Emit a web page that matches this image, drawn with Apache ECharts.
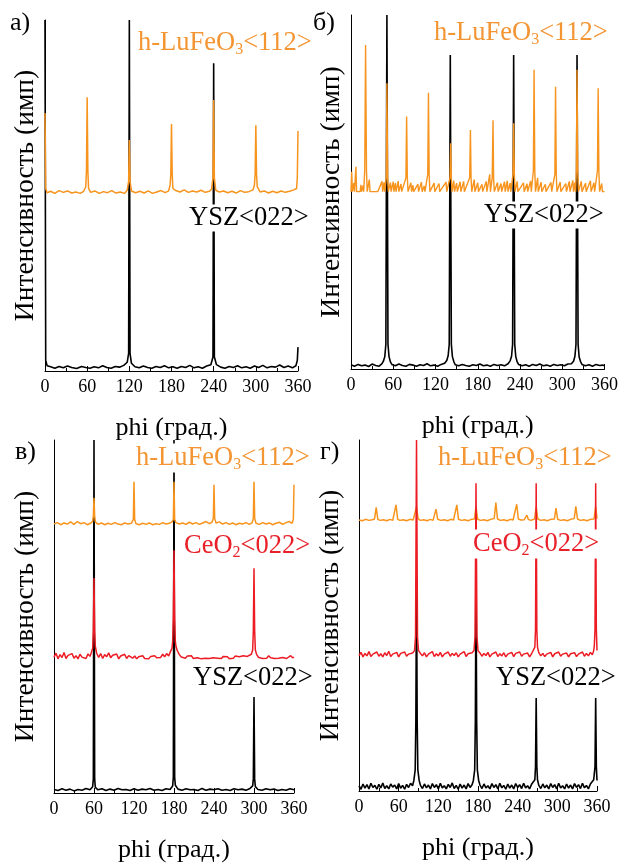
<!DOCTYPE html>
<html><head><meta charset="utf-8">
<script src="https://cdn.jsdelivr.net/npm/echarts@6/dist/echarts.min.js"></script>
<style>html,body{margin:0;padding:0;background:#fff}#c{width:621px;height:864px}</style>
</head><body><div id="c"></div>
<script>
// ---------- DATA: [phi (deg), intensity (arb., stacked offset included)] ----------
const yszA = [[0,100],[1,3],[3,1.5],[8,1.2],[14,0.8],[20,1.3],[26,0.9],[32,1.4],[38,1.0],[45,0.7],[52,1.3],[58,1.0],[64,0.8],[70,1.2],[76,0.9],[82,1.5],[88,1.0],[94,0.8],[100,1.3],[106,1.1],[112,1.6],[117,2.5],[119,5],[120,100],[121,5],[123,2.2],[128,1.2],[134,0.9],[140,1.4],[146,1.0],[152,0.8],[158,1.3],[164,1.0],[170,1.5],[176,0.9],[182,1.2],[188,0.8],[194,1.3],[200,1.0],[206,1.6],[212,0.9],[218,1.2],[224,0.8],[230,1.4],[236,1.8],[239,4],[240,87.7],[241,4],[244,1.8],[250,1.1],[256,0.8],[262,1.3],[268,1.0],[274,1.5],[280,0.9],[286,1.2],[292,0.8],[298,1.4],[304,1.0],[310,1.6],[316,0.9],[322,1.3],[328,1.1],[334,1.7],[340,1.0],[346,1.4],[352,0.9],[357,1.5],[359,3],[360,6.8]];
const lufeoA = [[0,73.5],[1,52],[3,50.8],[8,51.2],[14,50.6],[20,51.4],[26,50.9],[32,51.3],[38,50.7],[44,51.0],[50,50.6],[55,51.2],[58,52.5],[59,57],[60,78],[61,57],[62,52],[65,50.9],[71,51.3],[77,50.6],[83,51.1],[89,50.8],[95,51.4],[101,50.7],[107,51.0],[113,50.6],[117,51.5],[119,54],[120,65.8],[121,54],[123,51.3],[129,50.8],[135,51.2],[141,50.7],[147,51.3],[153,50.6],[159,51.0],[165,51.4],[171,50.8],[176,51.3],[178,53],[179,56],[180,70.4],[181,56],[182,52],[186,51.4],[192,51.0],[198,51.6],[204,50.9],[210,51.3],[216,51.0],[222,51.5],[228,50.9],[234,51.2],[237,51.8],[239,55],[240,77.2],[241,55],[243,51.5],[248,51.0],[254,51.3],[260,50.8],[266,51.2],[272,50.7],[278,51.4],[284,50.9],[290,51.1],[296,51.6],[298,53],[299,56],[300,70],[301,56],[302,52.5],[306,51.0],[312,51.3],[318,50.7],[324,51.2],[330,50.8],[336,51.3],[342,50.9],[348,51.2],[354,51.6],[358,52],[359,55],[360,68.4]];

const yszB = [[0,1.2],[5,0.8],[10,1.3],[15,0.9],[20,1.1],[25,0.7],[30,1.4],[35,1.0],[40,0.8],[44,1.5],[46,2.2],[48,3.5],[49.5,7],[51,100],[52.5,7],[54,3.5],[56,2],[58,1.3],[63,0.9],[68,1.4],[73,1.0],[78,0.8],[83,1.3],[88,1.1],[93,0.8],[98,1.2],[103,1.0],[108,1.5],[113,0.9],[118,1.1],[123,0.8],[128,1.3],[133,1.6],[136,2.4],[138,3.8],[139.5,7],[141,88.7],[142.5,7],[144,3.5],[146,2.1],[148,1.2],[153,0.9],[158,1.3],[163,1.0],[168,0.8],[173,1.2],[178,1.0],[183,1.4],[188,0.9],[193,1.1],[198,0.8],[203,1.3],[208,1.0],[213,1.2],[218,0.9],[223,1.5],[226,2.3],[228,3.6],[229.5,7],[231,88.7],[232.5,7],[234,3.5],[236,2.0],[238,1.3],[243,0.9],[248,1.2],[253,0.8],[258,1.3],[263,1.0],[268,1.4],[273,0.9],[278,1.1],[283,0.8],[288,1.3],[293,1.0],[298,1.2],[303,0.9],[308,1.4],[313,1.5],[316,2.2],[318,3.6],[319.5,7],[321,88.7],[322.5,7],[324,3.4],[326,2.1],[328,1.3],[333,0.9],[338,1.2],[343,0.8],[348,1.3],[353,1.0],[358,1.1],[360,0.9]];
const lufeoB = [[0,50.1],[1,55.7],[2,50.1],[4,52.5],[5,50.1],[7,57.1],[8,50.1],[13,50.1],[14,52],[15,50.1],[17,51.8],[18,50.1],[19.5,56],[20.7,91.5],[22,56],[23,50.1],[26,53.5],[27,50.1],[33,50.1],[38,50.1],[44,53],[45,50.1],[47,52.8],[48,50.1],[50,54],[51,80.7],[52,54],[53,50.1],[56,52.7],[57,50.1],[60,52.9],[61,50.1],[63,52.5],[64,50.1],[67,53.1],[68,50.1],[71,52.3],[72,50.1],[78,54],[79,71.3],[80,54],[81,50.1],[85,52.6],[86,50.1],[88,51.9],[89,50.1],[95,52.2],[96,50.1],[100,52.8],[101,50.1],[104,51.7],[105,50.1],[109,55],[110,78],[111,55],[112,50.1],[118,52.5],[119,50.1],[125,52.4],[126,50.1],[135,52.8],[136,50.1],[140.5,54],[141.6,63.8],[142.5,54],[143.5,50.1],[146,53.2],[147,50.1],[150,52.5],[151,50.1],[155,52.9],[156,50.1],[160,53],[161,50.1],[168.5,54],[169.6,67.5],[170.5,54],[171.5,50.1],[175,53.5],[176,50.1],[180,52.6],[181,50.1],[186,52.2],[187,50.1],[192,53],[193,50.1],[197,55],[198,50.1],[200.5,54],[201.7,70.3],[202.5,54],[203.5,50.1],[208,52.7],[209,50.1],[213,52.4],[214,50.1],[218,52.9],[219,50.1],[222,53.2],[223,50.1],[226,52.5],[227,50.1],[230,55],[231,69.4],[232,55],[233,50.1],[236,53],[237,50.1],[245,52.6],[246,50.1],[250,52.3],[251,50.1],[255,53.1],[256,50.1],[259,56],[260,84.5],[261,56],[262,50.1],[265,54],[266,50.1],[270,52.8],[271,50.1],[276,52.2],[277,50.1],[284,52.7],[285,50.1],[289.5,55],[290.5,79.7],[291.5,55],[292.5,50.1],[297,52.8],[298,50.1],[305,52.4],[306,50.1],[310,53],[311,50.1],[315,53.3],[316,50.1],[318,52.7],[319,50.1],[320,56],[321,84.5],[322,56],[323,50.1],[327,53],[328,50.1],[333,52.5],[334,50.1],[340,53.2],[341,50.1],[345,52.6],[346,50.1],[350,56],[351,79.3],[352,56],[353,50.1],[356,52.4],[357,50.1],[360,50.1]];

const yszC = [[0,1.0],[6,0.7],[12,1.2],[18,0.8],[24,1.1],[30,0.6],[36,1.0],[42,0.8],[48,1.3],[54,0.9],[58,1.8],[59,4],[60,100],[61,4],[62,1.6],[66,0.9],[72,1.2],[78,0.7],[84,1.1],[90,0.8],[96,1.3],[102,0.9],[108,1.0],[114,0.7],[120,1.2],[126,0.8],[132,1.1],[138,0.9],[144,1.3],[150,0.8],[156,1.0],[162,0.7],[168,1.2],[174,1.0],[178,2],[179,4.5],[180,100],[181,4.5],[182,2.2],[186,1.1],[192,0.8],[198,1.2],[204,0.9],[210,1.0],[216,0.7],[222,1.3],[228,0.8],[234,1.1],[240,0.9],[246,1.2],[252,0.8],[258,1.0],[264,0.7],[270,1.2],[276,0.9],[282,1.1],[288,0.8],[294,1.3],[298,2],[299,4],[300,27.2],[301,4],[302,1.8],[306,1.0],[312,0.8],[318,1.2],[324,0.9],[330,1.1],[336,0.7],[342,1.0],[348,0.8],[354,1.2],[360,0.9]];
const ceoC = [[0,38.5],[3,39.6],[6,38.0],[9,39.2],[12,38.4],[15,39.8],[18,38.1],[21,39.0],[24,38.6],[27,39.5],[30,38.2],[33,38.9],[36,38.0],[39,39.3],[42,38.5],[45,38.8],[48,38.1],[51,39.4],[54,38.7],[56,39.8],[58,41],[59,46],[60,60.9],[61,46],[62,41.5],[64,39.6],[67,38.4],[70,39.5],[73,38.1],[76,39.2],[79,38.6],[82,39.7],[85,38.3],[88,39.0],[91,38.5],[94,39.4],[97,38.0],[100,38.8],[103,38.4],[106,39.3],[109,38.1],[112,38.9],[115,38.5],[118,38.2],[121,38.8],[124,38.0],[127,38.6],[130,38.3],[133,38.9],[136,38.1],[139,38.5],[142,38.0],[145,38.7],[148,38.2],[151,38.9],[154,38.3],[157,38.8],[160,38.4],[163,39.3],[166,38.6],[169,39.5],[172,38.8],[175,40.2],[177,41],[178,43],[179,50],[180,68.8],[181,50],[182,43],[183,41.5],[185,40.3],[188,39.2],[191,38.5],[194,39.0],[197,38.2],[200,38.8],[203,38.4],[206,38.9],[209,38.1],[212,38.6],[215,38.3],[218,38.8],[221,38.0],[224,38.5],[227,38.2],[230,38.7],[233,38.1],[236,38.6],[239,38.3],[242,38.8],[245,38.2],[248,38.5],[251,38.1],[254,38.7],[257,38.3],[260,38.6],[263,38.0],[266,38.5],[269,38.2],[272,38.8],[275,38.3],[278,38.6],[281,38.1],[284,38.9],[287,38.4],[290,38.7],[293,38.2],[296,39.3],[298,40.5],[299,46],[300,63.7],[301,46],[302,40.5],[304,39.2],[307,38.4],[310,38.8],[313,38.1],[316,38.6],[319,38.2],[322,38.9],[325,38.3],[328,38.6],[331,38.1],[334,38.5],[337,38.2],[340,38.7],[343,38.4],[346,38.8],[349,38.1],[352,38.5],[355,38.9],[358,38.3],[360,38.5]];
const lufeoC = [[0,76.2],[5,76.6],[10,76.0],[15,76.5],[20,76.2],[25,76.8],[30,76.1],[35,76.9],[40,76.3],[45,76.6],[50,76.0],[55,76.4],[58,77],[59,78.5],[60,83.6],[61,78.5],[62,76.8],[66,76.1],[71,76.5],[76,76.0],[81,76.4],[86,76.1],[91,76.6],[96,76.2],[101,76.0],[106,76.5],[111,76.2],[116,76.4],[119,77.5],[120,88.2],[121,77.5],[123,76.3],[128,76.0],[133,76.4],[138,76.1],[143,76.5],[148,76.0],[153,76.3],[158,76.1],[163,76.6],[168,76.2],[173,76.4],[177,76.8],[179,77.5],[180,88.2],[181,77.5],[183,76.6],[188,76.2],[193,76.5],[198,76.1],[203,76.7],[208,76.2],[213,76.6],[218,76.1],[223,76.5],[228,76.9],[233,76.3],[237,76.7],[239,77.8],[240,87.3],[241,77.8],[243,76.5],[248,76.8],[253,76.2],[258,76.6],[263,76.1],[268,76.5],[273,76.0],[278,76.4],[283,76.2],[288,76.6],[293,76.1],[297,76.5],[299,77.8],[300,88.2],[301,77.8],[303,76.4],[308,76.1],[313,76.6],[318,76.2],[323,76.5],[328,76.0],[333,76.4],[338,76.7],[343,76.1],[348,76.6],[353,76.9],[357,76.4],[359,77.5],[360,87.3]];

const yszD = [[0,1.5],[3,0.5],[6,2.0],[9,0.8],[12,1.8],[15,0.6],[18,2.2],[21,1.0],[24,1.6],[27,0.5],[30,1.9],[33,0.9],[36,2.3],[39,0.7],[42,1.5],[45,0.6],[48,2.0],[51,1.1],[54,1.7],[57,0.6],[60,2.1],[63,0.8],[66,1.6],[69,0.5],[72,1.9],[75,1.0],[78,2.2],[81,1.5],[83,3],[85,6],[86,20],[87,60],[88,20],[89,6],[91,3],[93,1.6],[96,0.7],[99,2.0],[102,0.9],[105,1.7],[108,0.6],[111,2.1],[114,1.0],[117,1.8],[120,0.6],[123,2.2],[126,0.9],[129,1.5],[132,0.6],[135,1.9],[138,1.0],[141,2.3],[144,0.7],[147,1.6],[150,0.5],[153,2.0],[156,0.8],[159,1.7],[162,0.6],[165,2.1],[168,1.0],[171,1.8],[173,3],[175,6],[176,20],[177,60],[178,20],[179,6],[181,3],[183,1.7],[186,0.7],[189,2.0],[192,0.9],[195,1.5],[198,0.6],[201,2.1],[204,1.0],[207,1.8],[210,0.6],[213,2.2],[216,0.9],[219,1.6],[222,0.5],[225,2.0],[228,0.8],[231,1.7],[234,0.6],[237,2.1],[240,1.0],[243,1.8],[246,0.7],[249,2.2],[252,0.9],[255,1.5],[258,0.6],[261,1.9],[264,1.5],[266,3.2],[267,7],[268,26.5],[269,7],[270,3.2],[272,1.6],[275,0.7],[278,2.0],[281,0.9],[284,1.7],[287,0.6],[290,2.1],[293,1.0],[296,1.8],[299,0.6],[302,2.2],[305,0.9],[308,1.5],[311,0.6],[314,2.0],[317,0.8],[320,1.7],[323,0.6],[326,2.1],[329,1.0],[332,1.8],[335,0.7],[338,2.2],[341,0.9],[344,1.6],[347,0.6],[350,2.0],[353,1.5],[355,3.2],[356,5],[357,7],[358,26.5],[359,7],[360,3]];
const ceoD = [[0,38.6],[3,39.5],[6,38.2],[9,39.2],[12,38.5],[15,39.7],[18,38.3],[21,39.0],[24,38.7],[27,39.6],[30,38.4],[33,39.1],[36,38.2],[39,39.4],[42,38.6],[45,39.8],[48,38.3],[51,39.0],[54,38.5],[57,39.5],[60,38.2],[63,39.2],[66,38.7],[69,39.6],[72,38.4],[75,39.0],[78,38.6],[81,39.3],[84,40],[85.5,44],[87,100],[88.5,44],[90,40],[93,39.2],[96,38.5],[99,39.4],[102,38.2],[105,39.0],[108,38.6],[111,39.7],[114,38.3],[117,39.1],[120,38.5],[123,39.5],[126,38.2],[129,39.0],[132,38.7],[135,39.6],[138,38.4],[141,39.2],[144,38.6],[147,39.4],[150,38.2],[153,39.0],[156,38.5],[159,39.7],[162,38.3],[165,39.1],[168,38.6],[171,39.4],[174,40],[175.5,44],[177,87.7],[178.5,44],[180,40],[183,39.3],[186,38.4],[189,39.2],[192,38.6],[195,39.5],[198,38.2],[201,39.0],[204,38.7],[207,39.6],[210,38.3],[213,39.1],[216,38.5],[219,39.4],[222,38.2],[225,39.0],[228,38.6],[231,39.5],[234,38.3],[237,39.2],[240,38.7],[243,39.6],[246,38.4],[249,39.0],[252,38.5],[255,39.3],[258,38.2],[261,39.1],[264,39.5],[266,41],[267,46],[268,87.7],[269,46],[270,41],[272,39.4],[275,38.5],[278,39.2],[281,38.3],[284,39.0],[287,38.6],[290,39.5],[293,38.2],[296,39.1],[299,38.7],[302,39.6],[305,38.4],[308,39.0],[311,38.5],[314,39.3],[317,38.2],[320,39.1],[323,38.6],[326,39.4],[329,38.3],[332,39.0],[335,38.7],[338,39.6],[341,38.4],[344,39.2],[347,38.5],[350,39.5],[353,38.8],[355,40],[356,41.5],[357,46],[358,87.7],[359,46],[360,40]];
const lufeoD = [[0,77.2],[5,77.0],[10,77.4],[15,77.1],[20,77.3],[23.5,77.5],[26,80.8],[28.5,77.4],[32,77.1],[37,77.3],[42,77.0],[47,77.4],[51,77.1],[53.5,77.5],[56,81.5],[58.5,77.4],[62,77.1],[67,77.3],[72,77.0],[77,77.4],[82,77.2],[84.5,77.6],[87,81],[89.5,77.5],[93,77.1],[98,77.3],[103,77.0],[108,77.4],[112,77.1],[114,77.5],[116.5,80.3],[119,77.4],[124,77.1],[129,77.3],[134,77.0],[139,77.4],[143,77.2],[145.5,77.5],[148,81.5],[150.5,77.4],[155,77.1],[160,77.3],[165,77.0],[170,77.4],[174.5,77.5],[177,81],[179.5,77.4],[184,77.1],[189,77.3],[194,77.0],[199,77.4],[202,77.1],[204.5,77.6],[207,82.2],[209.5,77.5],[214,77.1],[219,77.3],[224,77.0],[229,77.4],[233,77.2],[236,77.6],[238.6,81.7],[241,77.5],[245,77.2],[250,77.3],[252,77.5],[254,78.6],[256,77.4],[260,77.1],[265.5,77.5],[268,81],[270.5,77.5],[275,77.1],[280,77.3],[285,77.0],[290,77.4],[293,77.2],[295.5,77.5],[298,80.6],[300.5,77.4],[305,77.1],[310,77.3],[315,77.0],[320,77.4],[323,77.2],[325.5,77.6],[328,81.1],[330.5,77.5],[335,77.1],[340,77.3],[345,77.0],[350,77.4],[355.5,77.5],[358,81],[360,77.6]];

const panelLetters = ['а)', 'б)', 'в)', 'г)'];
const xName = 'phi (град.)';
const yName = 'Интенсивность (имп)';
const labelLu = 'h-LuFeO{s|3}<112>';
const labelCe = 'CeO{s|2}<022>';
const labelYsz = 'YSZ<022>';

// ---------- LAYOUT / STYLE ----------
const BLACK = '#000000', ORANGE = '#f7941d', RED = '#ed1c24';
const ORANGE_T = '#f39533', RED_T = '#e8202a';
const FONT = '"Liberation Serif", "Times New Roman", serif';
const grids = [
  {left: 45, top: 20, width: 253, height: 351},
  {left: 351, top: 15, width: 256, height: 354},
  {left: 54, top: 440, width: 240, height: 353},
  {left: 359, top: 440, width: 238, height: 351}
];
const yNameGaps = [5, 5, 14, 14];
const panelSeries = [
  [[yszA, BLACK, 1.6], [lufeoA, ORANGE, 1.5]],
  [[yszB, BLACK, 1.6], [lufeoB, ORANGE, 1.4]],
  [[yszC, BLACK, 1.6], [lufeoC, ORANGE, 1.5], [ceoC, RED, 1.5]],
  [[yszD, BLACK, 1.6], [lufeoD, ORANGE, 1.5], [ceoD, RED, 1.5]]
];
const letterPos = [[10, 23], [313, 23], [15, 452], [320, 452]];
const seriesLabels = [
  [labelLu, ORANGE_T, 136, 43], [labelYsz, BLACK, 187, 218],
  [labelLu, ORANGE_T, 432, 33], [labelYsz, BLACK, 482, 215],
  [labelLu, ORANGE_T, 134, 458], [labelCe, RED_T, 182, 546], [labelYsz, BLACK, 191, 678],
  [labelLu, ORANGE_T, 436, 458], [labelCe, RED_T, 471, 544], [labelYsz, BLACK, 494, 678]
];

const xAxis = grids.map((g, i) => ({
  gridIndex: i, type: 'value', min: 0, max: 360, interval: 60,
  name: xName, nameLocation: 'middle', nameGap: 44,
  nameTextStyle: {fontFamily: FONT, fontSize: 26, color: BLACK},
  axisLine: {show: true, onZero: false, lineStyle: {color: BLACK, width: 1}},
  axisTick: {show: true, inside: true, length: 5, lineStyle: {color: BLACK}},
  minorTick: {show: true, splitNumber: 2, length: 3, lineStyle: {color: BLACK}},
  axisLabel: {fontFamily: FONT, fontSize: 18, color: BLACK, margin: 7},
  splitLine: {show: false}
}));
const yAxis = grids.map((g, i) => ({
  gridIndex: i, type: 'value', min: 0, max: 100,
  name: yName, nameLocation: 'middle', nameGap: yNameGaps[i],
  nameTextStyle: {fontFamily: FONT, fontSize: 27.5, color: BLACK},
  axisLine: {show: true, lineStyle: {color: BLACK, width: 1}},
  axisTick: {show: false}, axisLabel: {show: false}, splitLine: {show: false}
}));
const series = [];
panelSeries.forEach((list, i) => list.forEach(([data, color, w]) => series.push({
  type: 'line', xAxisIndex: i, yAxisIndex: i, data: data, showSymbol: false, symbol: 'none',
  lineStyle: {color: color, width: w}, itemStyle: {color: color}, animation: false, silent: true
})));

const graphic = [];
panelLetters.forEach((t, i) => graphic.push({
  type: 'text', z: 100, style: {text: t, x: letterPos[i][0], y: letterPos[i][1],
    font: '26px ' + FONT, fill: BLACK, textAlign: 'left', textVerticalAlign: 'middle', align: 'left', verticalAlign: 'middle'}
}));
seriesLabels.forEach(([t, c, x, y]) => graphic.push({
  type: 'text', z: 100, style: {text: t, x: x, y: y, font: '26.5px ' + FONT, fill: c,
    textAlign: 'left', textVerticalAlign: 'middle', align: 'left', verticalAlign: 'middle',
    backgroundColor: '#ffffff', padding: [0, 2, 0, 2],
    rich: {s: {fontSize: 16, fontFamily: FONT, fill: c, padding: [13, 0, 0, 0]}}}
}));

const chart = echarts.init(document.getElementById('c'), null, {renderer: 'canvas'});
chart.setOption({
  backgroundColor: '#ffffff', animation: false,
  grid: grids, xAxis: xAxis, yAxis: yAxis, series: series, graphic: graphic
});
</script></body></html>
